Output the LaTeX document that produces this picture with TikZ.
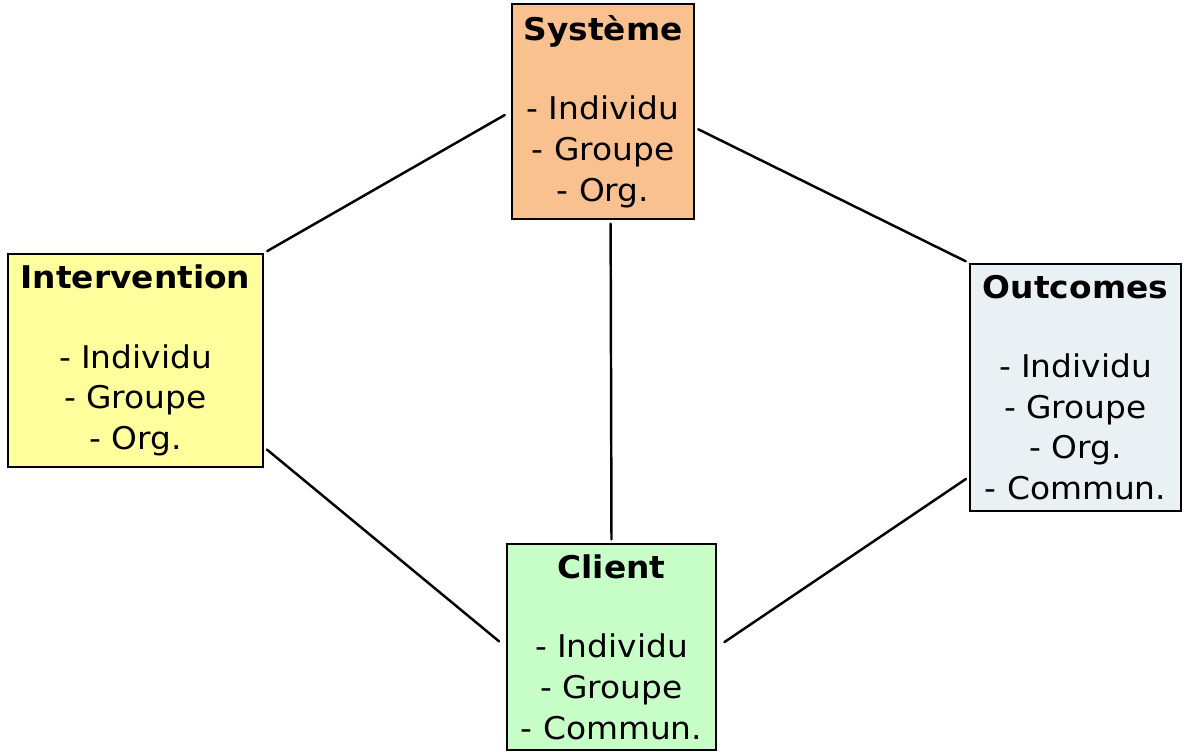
\documentclass[tikz,border=0pt]{standalone}
\usepackage{fontspec}
\setmainfont[FakeStretch=1.05]{DejaVu Sans}
\usepackage{xcolor}
\definecolor{peche}{RGB}{250,193,144}
\definecolor{jaune}{RGB}{255,255,158}
\definecolor{bleupale}{RGB}{234,241,245}
\definecolor{vertpale}{RGB}{200,255,200}

\begin{document}
\begin{tikzpicture}[font=\fontsize{17.8}{23.2}\selectfont,line cap=round,
  bloc/.style={draw,line width=1.3pt,align=center,inner sep=0pt},
  lien/.style={line width=1.4pt,shorten <=2pt,shorten >=2pt}]
\useasboundingbox (0,0) rectangle (23.7,15.04);
\node[bloc,fill=peche,minimum width=3.64cm,minimum height=4.30cm] (sys) at (12.06,12.81)
  {\textbf{Système}\\[22pt]- Individu\\- Groupe\\- Org.};
\node[bloc,fill=jaune,minimum width=5.10cm,minimum height=4.26cm] (int) at (2.71,7.83)
  {\textbf{Intervention}\\[22pt]- Individu\\- Groupe\\- Org.};
\node[bloc,fill=bleupale,minimum width=4.22cm,minimum height=4.94cm] (out) at (21.51,7.29)
  {\textbf{Outcomes}\\[22pt]- Individu\\- Groupe\\- Org.\\- Commun.};
\node[bloc,fill=vertpale,minimum width=4.18cm,minimum height=4.12cm] (cli) at (12.23,2.10)
  {\textbf{Client}\\[22pt]- Individu\\- Groupe\\- Commun.};
\draw[lien,shorten <=4pt] (sys.west) -- (int.north east);
\draw[lien] (sys.-10) -- (out.north west);
\draw[lien] (sys.-86) -- (cli.north);
\draw[lien,shorten >=5pt] (int.-34) -- (cli.west);
\draw[lien,shorten >=5pt] (out.220) -- (cli.east);
\end{tikzpicture}
\end{document}
